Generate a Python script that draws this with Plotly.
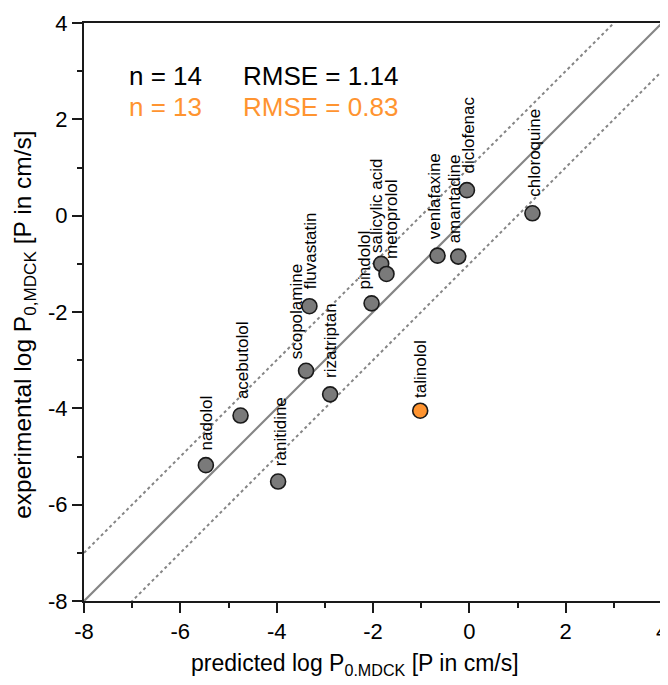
import numpy as np
import plotly.graph_objects as go

# ---- data ----
compounds = ["nadolol", "acebutolol", "ranitidine", "scopolamine", "rizatriptan",
             "fluvastatin", "pindolol", "salicylic acid", "metoprolol",
             "venlafaxine", "amantadine", "diclofenac", "chloroquine", "talinolol"]
predicted = [-5.47, -4.75, -3.97, -3.39, -2.89, -3.32, -2.03, -1.83, -1.72,
             -0.66, -0.23, -0.05, 1.31, -1.02]
experimental = [-5.18, -4.15, -5.52, -3.22, -3.71, -1.88, -1.82, -1.00, -1.21,
                -0.83, -0.85, 0.53, 0.05, -4.05]
is_outlier = [False] * 13 + [True]
stats_all = ["n = 14", "RMSE = 1.14"]
stats_sub = ["n = 13", "RMSE = 0.83"]
axis_range = [-8, 4]
tick_vals = [-8, -6, -4, -2, 0, 2, 4]
x_title = "predicted log P<sub>0.MDCK</sub> [P in cm/s]"
y_title = "experimental log P<sub>0,MDCK</sub> [P in cm/s]"

# label offsets in pixels (xshift, yshift)
label_offsets = {
    "nadolol": (1, 13), "acebutolol": (2, 14), "ranitidine": (2, 13),
    "scopolamine": (-10, 9), "rizatriptan": (1, 14), "fluvastatin": (1, 15),
    "pindolol": (-7, 12), "salicylic acid": (-4, 9), "metoprolol": (5, 13),
    "venlafaxine": (-3, 14), "amantadine": (-4, 11), "diclofenac": (2, 15),
    "chloroquine": (2, 15), "talinolol": (1, 11),
}

GRAY = "#7a7a7a"
ORANGE = "#FF9430"
FONT = "Liberation Sans, Arial, sans-serif"

fig = go.Figure()

lx = np.array(axis_range, dtype=float)
fig.add_trace(go.Scatter(x=lx, y=lx, mode="lines",
                         line=dict(color="#858585", width=2.2),
                         hoverinfo="skip", showlegend=False))
for off in (1, -1):
    fig.add_trace(go.Scatter(x=lx, y=lx + off, mode="lines",
                             line=dict(color="#858585", width=2, dash="dot"),
                             hoverinfo="skip", showlegend=False))

colors = [ORANGE if o else GRAY for o in is_outlier]
fig.add_trace(go.Scatter(
    x=predicted, y=experimental, mode="markers",
    marker=dict(size=15, color=colors, line=dict(color="#1a1a1a", width=1.6)),
    text=compounds, showlegend=False))

for name, xv, yv in zip(compounds, predicted, experimental):
    dx, dy = label_offsets[name]
    fig.add_annotation(x=xv, y=yv, text=name, showarrow=False, textangle=-90,
                       xanchor="center", yanchor="bottom", xshift=dx, yshift=dy,
                       font=dict(family=FONT, size=17, color="black"))

# statistics text
for txt, xv, yv, col in [(stats_all[0], -7.11, 2.91, "black"),
                         (stats_all[1], -4.75, 2.91, "black"),
                         (stats_sub[0], -7.11, 2.25, ORANGE),
                         (stats_sub[1], -4.75, 2.25, ORANGE)]:
    fig.add_annotation(x=xv, y=yv, text=txt, showarrow=False,
                       xanchor="left", yanchor="middle",
                       font=dict(family=FONT, size=26, color=col))

# axis titles
fig.add_annotation(xref="paper", yref="paper", x=0.469, y=-0.109, text=x_title,
                   showarrow=False, xanchor="center", yanchor="middle",
                   font=dict(family=FONT, size=23, color="black"))
fig.add_annotation(xref="paper", yref="paper", x=-0.102, y=0.478, text=y_title,
                   showarrow=False, xanchor="center", yanchor="middle", textangle=-90,
                   font=dict(family=FONT, size=24.5, color="black"))

axis_common = dict(
    range=axis_range, tickvals=tick_vals, ticktext=[str(t) for t in tick_vals],
    showgrid=False, zeroline=False, showline=True, linecolor="#1a1a1a",
    linewidth=2, mirror=True, ticks="outside", ticklen=10, tickwidth=2,
    tickcolor="#1a1a1a", tickfont=dict(family=FONT, size=22, color="black"),
    ticklabeloverflow="allow",
    minor=dict(ticks="outside", ticklen=5, tickwidth=2, tickcolor="#1a1a1a", dtick=1),
)

fig.update_xaxes(**axis_common)
fig.update_yaxes(**axis_common)

# page body has an 8px default margin; offset the figure so the plot area
# lands at the reference position
fig.update_layout(
    width=660, height=677,
    margin=dict(l=76, r=6, t=15, b=84, autoexpand=False),
    plot_bgcolor="white", paper_bgcolor="white",
    font=dict(family=FONT),
)

fig.write_html("out.html")
